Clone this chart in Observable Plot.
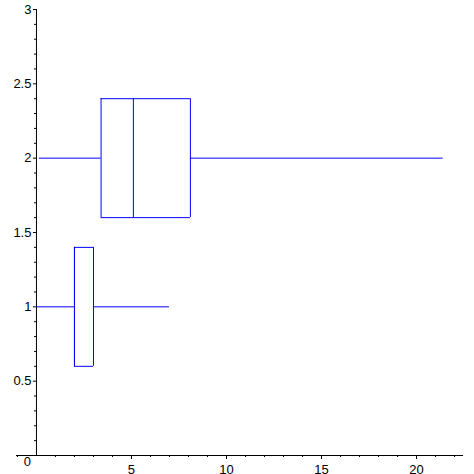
<!DOCTYPE html>
<html>
<head>
<meta charset="utf-8">
<script src="https://cdn.jsdelivr.net/npm/d3@7"></script>
<script src="https://cdn.jsdelivr.net/npm/@observablehq/plot@0.6"></script>
<style>
  html, body { margin: 0; padding: 0; background: #fff; }
  #chart svg { display: block; }
</style>
</head>
<body>
<div id="chart"></div>
<script>
// Box plot data
const positions = [1, 2];
const lows      = [0, 0.15];
const q1s       = [2.0, 3.4];
const medians   = [2.0, 5.1];
const q3s       = [3.0, 8.1];
const highs     = [7.0, 21.4];

// Axis tick values
const xMajorTicks = [5, 10, 15, 20];
const xMinorTicks = d3.range(-1, 23).filter(v => v !== 0 && v % 5 !== 0);
const yMajorTicks = [0.5, 1, 1.5, 2, 2.5, 3];
const yMinorTicks = d3.range(1, 30).map(v => v / 10).filter(v => Math.round(v * 10) % 5 !== 0);
const xZeroLabel = [0];

const boxes = positions.map((p, i) => ({
  pos: p, low: lows[i], q1: q1s[i], med: medians[i], q3: q3s[i], high: highs[i]
}));

const half = 0.4;
const blue = "#0000ff";
const font = "'Liberation Sans', Arial, sans-serif";

const chart = Plot.plot({
  width: 474,
  height: 474,
  marginLeft: 16,
  marginRight: 11,
  marginTop: 9,
  marginBottom: 19,
  style: { fontFamily: font, fontSize: "13px", background: "#fff" },
  x: { domain: [-1.05, 22.47], axis: null },
  y: { domain: [0, 3], axis: null },
  marks: [
    // axis lines
    Plot.ruleY([0], { stroke: "#000" }),
    Plot.ruleX([0], { y1: 0, y2: 3, stroke: "#000" }),
    // x ticks (below the axis)
    Plot.axisX(xMinorTicks, { anchor: "bottom", tickSize: 2, tickFormat: () => "", stroke: "#000" }),
    Plot.axisX(xMajorTicks, {
      anchor: "bottom", tickSize: 4, tickPadding: 5, stroke: "#000",
      fill: "#000", fontSize: 13, fontFamily: font, tickFormat: d => String(d)
    }),
    Plot.text(xZeroLabel, { x: d => d, y: 0, text: d => String(d), dx: -9, dy: 6.5, fill: "#000", fontSize: 13, fontFamily: font }),
    // y ticks (left of the y axis)
    Plot.ruleY(yMinorTicks, { y: d => d, x1: -0.105, x2: 0, stroke: "#000" }),
    Plot.ruleY(yMajorTicks, { y: d => d, x1: -0.16, x2: 0, stroke: "#000" }),
    Plot.text(yMajorTicks, { x: 0, y: d => d, text: d => String(d), dx: -5, textAnchor: "end", fill: "#000", fontSize: 13, fontFamily: font }),
    // whiskers
    Plot.ruleY(boxes, { y: "pos", x1: "low", x2: "q1", stroke: blue }),
    Plot.ruleY(boxes, { y: "pos", x1: "q3", x2: "high", stroke: blue }),
    // box edges
    Plot.ruleY(boxes, { y: d => d.pos - half, x1: "q1", x2: "q3", stroke: blue }),
    Plot.ruleY(boxes, { y: d => d.pos + half, x1: "q1", x2: "q3", stroke: blue }),
    Plot.ruleX(boxes, { x: "q1", y1: d => d.pos - half, y2: d => d.pos + half, stroke: blue }),
    Plot.ruleX(boxes, { x: "q3", y1: d => d.pos - half, y2: d => d.pos + half, stroke: blue }),
    // medians
    Plot.ruleX(boxes, { x: "med", y1: d => d.pos - half, y2: d => d.pos + half, stroke: blue })
  ]
});

document.getElementById("chart").appendChild(chart);
</script>
</body>
</html>
